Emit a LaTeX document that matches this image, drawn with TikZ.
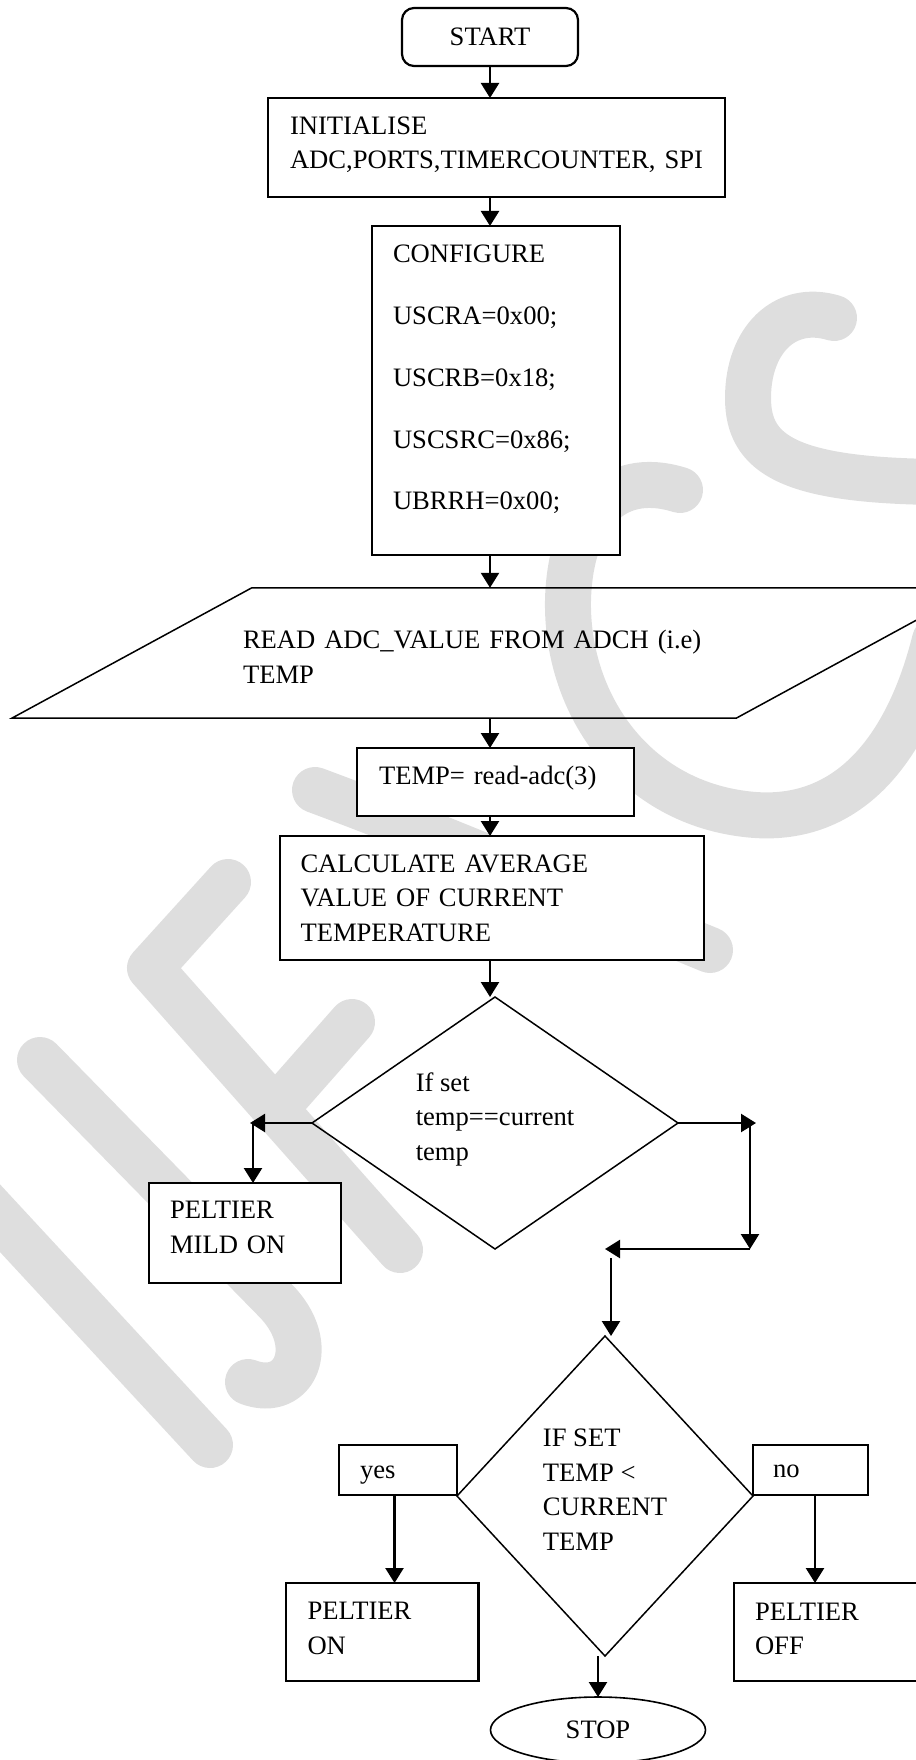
\documentclass[tikz,border=0pt]{standalone}
\usepackage{fontspec}
\setmainfont{Liberation Serif}
\usepackage{tikz}
\usetikzlibrary{arrows.meta, shapes.geometric, calc}
\definecolor{wmark}{RGB}{222,222,222}
\newcommand{\toppad}[1]{\rule{0pt}{#1}}
\newcommand{\botpad}[1]{\rule[-#1]{0pt}{#1}}
\tikzset{flowbox/.style={draw,fill=white,line width=2.2pt,align=left,inner sep=0pt,outer sep=0pt}}
\tikzset{decision/.style={diamond,draw,line width=1.5pt,align=left,inner sep=0pt,outer sep=0pt}}
\tikzset{terminal/.style={draw,line width=1.6pt,inner sep=0pt,outer sep=0pt}}
\tikzset{wmstroke/.style={draw=wmark,line width=46pt,line cap=round,line join=round}}
\tikzset{link/.style={->,line width=2.4pt}}

\begin{document}
\begin{tikzpicture}[x=1pt,y=-1pt,>={Triangle[length=15pt,width=18pt]},
                    every node/.style={font=\fontsize{26.6}{34.5}\selectfont}]
                    \useasboundingbox (0,0) rectangle (915,1760);

                    \draw[wmstroke] (834,318) .. controls (785,303) and (748,340) .. (748,398) .. controls (748,455) and (790,480) .. (935,482);
                    \draw[wmstroke] (680,490) .. controls (610,468) and (570,520) .. (568,600) .. controls (566,700) and (630,800) .. (745,814) .. controls (840,826) and (905,760) .. (935,640);
                    \draw[wmstroke] (315,790) .. controls (450,840) and (600,905) .. (710,950);
                    \draw[wmstroke] (228,882) -- (150,968) -- (400,1250);
                    \draw[wmstroke] (352,1022) -- (285,1098);
                    \draw[wmstroke] (40,1060) -- (275,1300) .. controls (320,1345) and (295,1400) .. (248,1382);
                    \draw[wmstroke] (-40,1175) -- (210,1445);

                    \coordinate (spine) at (490,0);
                    \node[flowbox,rounded corners=12pt,minimum width=176,minimum height=58](start) at (490,37) {START};
                    \node[flowbox,minimum width=457,minimum height=99,text width=413](init) at (496.5,147.5) {INITIALISE\\\mbox{ADC,PORTS,TIMERCOUNTER, SPI}\botpad{10pt}};
                    \node[flowbox,minimum width=248,minimum height=329,text width=206](config) at (496,390.5) {CONFIGURE\\[27.25pt]USCRA=0x00;\\[27.25pt]USCRB=0x18;\\[27.25pt]USCSRC=0x86;\\[27.25pt]UBRRH=0x00;\botpad{26pt}};
                    \node[minimum width=536,minimum height=130,text width=494,align=left,inner sep=0pt](read) at (490,653) {\toppad{26pt}READ ADC\_VALUE FROM ADCH (i.e)\\TEMP};
                    \draw[line width=1.5pt] ($(read.north west)+(30,0)$) -- ++(724,0) -- ($(read.south east)+(-22,0)$) -- ($(read.south west)+(-210,0)$) -- cycle;
                    \node[flowbox,minimum width=277,minimum height=68,text width=233](tempread) at (495.5,782) {TEMP= read-adc(3)\botpad{13.6pt}};
                    \node[flowbox,minimum width=424,minimum height=124,text width=383](average) at (492,898) {CALCULATE AVERAGE\\VALUE OF CURRENT\\TEMPERATURE};
                    \node[decision,aspect=1.45,minimum width=366,minimum height=252](equal) at (495,1123) {If set\\temp==current\\temp\botpad{13.6pt}};
                    \node[flowbox,minimum width=192,minimum height=100,text width=150](mild) at (245,1233) {PELTIER\\MILD ON\botpad{11.5pt}};
                    \node[decision,minimum width=296,minimum height=320](less) at (605,1496) {IF SET\\TEMP <\\CURRENT\\TEMP\botpad{12.5pt}};
                    \node[flowbox,minimum width=118,minimum height=50,text width=76](yes) at (398,1470) {\toppad{22pt}yes};
                    \node[flowbox,minimum width=115,minimum height=50,text width=75](no) at (810.5,1470) {\toppad{16pt}no};
                    \node[flowbox,minimum width=192.5,minimum height=98,text width=149.5](pon) at (382.25,1632) {PELTIER\\ON\botpad{7.5pt}};
                    \node[flowbox,minimum width=192,minimum height=98,text width=150](poff) at (830,1632) {PELTIER\\OFF\botpad{6pt}};
                    \node[terminal,ellipse,minimum width=215,minimum height=66](stop) at (598,1730) {STOP};

                    \draw[link] (start.south -| spine) -- (init.north -| spine);
                    \draw[link] (init.south -| spine) -- (config.north -| spine);
                    \draw[link] (config.south -| spine) -- (read.north -| spine);
                    \draw[link] (read.south -| spine) -- (tempread.north -| spine);
                    \draw[link] (tempread.south -| spine) -- (average.north -| spine);
                    \draw[link] (average.south -| spine) -- (equal.north -| spine);

                    \coordinate (lturn) at ($(equal.west)+(-62,0)$);
                    \coordinate (ldrop) at ($(lturn)+(3,0)$);
                    \draw[link] (equal.west) -- (lturn);
                    \draw[link] (ldrop) -- (ldrop |- mild.north);

                    \coordinate (rturn) at ($(equal.east)+(78,0)$);
                    \coordinate (rdrop) at ($(rturn)+(-6,0)$);
                    \coordinate (rbend) at (rdrop |- equal.south);
                    \coordinate (mturn) at (rbend -| less.north);
                    \coordinate (mdrop) at ($(mturn)+(6,9)$);
                    \draw[link] (equal.east) -- (rturn);
                    \draw[link] (rdrop) -- (rbend);
                    \draw[link] (rbend) -- (mturn);
                    \draw[link] (mdrop) -- (mdrop |- less.north);

                    \coordinate (ydrop) at ($(yes.south)+(-3.5,0)$);
                    \coordinate (ndrop) at ($(no.south)+(4.5,0)$);
                    \draw[link] (ydrop) -- (ydrop |- pon.north);
                    \draw[link] (ndrop) -- (ndrop |- poff.north);
                    \draw[link] (stop.north |- less.south) -- (stop.north);

                \end{tikzpicture}
\end{document}
